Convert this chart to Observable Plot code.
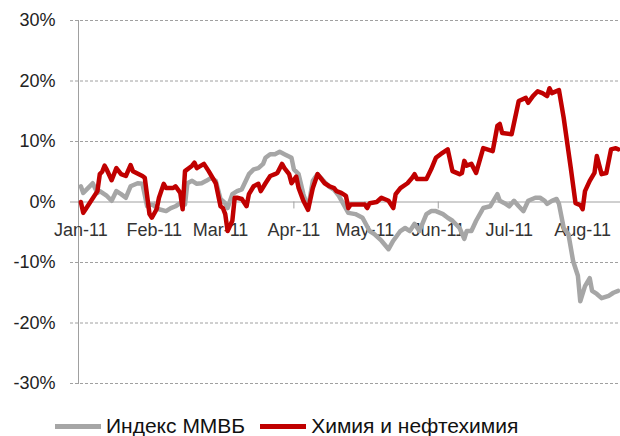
<!DOCTYPE html>
<html><head><meta charset="utf-8">
<script src="https://cdn.jsdelivr.net/npm/d3@7"></script>
<script src="https://cdn.jsdelivr.net/npm/@observablehq/plot@0.6"></script>
<style>
body{margin:0;background:#fff;font-family:"Liberation Sans",Arial,sans-serif;}
#legend{display:flex;align-items:center;height:52px;padding-left:55px;font-size:21px;color:#111;}
.item{display:flex;align-items:center;margin-right:15px;}
.sw{display:inline-block;width:46px;height:5px;margin-right:5px;}
</style></head><body>
<div id="chart"></div>
<div id="legend"></div>
<script>
const seriesNames = ["Индекс ММВБ", "Химия и нефтехимия"];
const seriesColors = ["#a6a6a6", "#c00000"];
const yTicks = [-30, -20, -10, 0, 10, 20, 30];
const monthTicks = ["2011-01-01","2011-02-01","2011-03-01","2011-04-01","2011-05-01","2011-06-01","2011-07-01","2011-08-01"];
const monthLabels = ["Jan-11","Feb-11","Mar-11","Apr-11","May-11","Jun-11","Jul-11","Aug-11"];
const xDomain = ["2010-12-31","2011-08-17"];

const micex = [["2011-01-01",2.6],["2011-01-02",1.5],["2011-01-04",2.3],["2011-01-06",3.1],["2011-01-08",1.5],["2011-01-09",1.8],["2011-01-12",1.0],["2011-01-14",0.2],["2011-01-16",1.8],["2011-01-18",1.3],["2011-01-20",0.7],["2011-01-22",2.6],["2011-01-25",3.1],["2011-01-27",3.0],["2011-01-29",-0.7],["2011-01-31",-0.4],["2011-02-03",-1.2],["2011-02-06",-1.5],["2011-02-08",-1.0],["2011-02-10",-0.7],["2011-02-12",-0.2],["2011-02-14",-0.4],["2011-02-15",3.1],["2011-02-17",3.5],["2011-02-19",3.0],["2011-02-21",3.1],["2011-02-23",3.5],["2011-02-25",4.0],["2011-02-27",3.5],["2011-03-01",0.5],["2011-03-03",-0.2],["2011-03-04",-1.0],["2011-03-06",1.3],["2011-03-08",1.8],["2011-03-10",2.1],["2011-03-13",4.6],["2011-03-15",5.4],["2011-03-17",5.6],["2011-03-19",6.3],["2011-03-20",7.3],["2011-03-22",7.9],["2011-03-24",7.9],["2011-03-26",8.3],["2011-03-28",7.9],["2011-03-31",7.3],["2011-04-01",5.4],["2011-04-03",4.6],["2011-04-05",1.3],["2011-04-07",-1.0],["2011-04-09",3.5],["2011-04-11",4.6],["2011-04-14",3.3],["2011-04-16",2.5],["2011-04-18",2.0],["2011-04-20",1.0],["2011-04-24",-1.8],["2011-04-27",-2.0],["2011-04-30",-2.6],["2011-05-03",-4.8],["2011-05-05",-5.3],["2011-05-08",-6.4],["2011-05-11",-7.8],["2011-05-13",-6.4],["2011-05-16",-4.8],["2011-05-18",-4.3],["2011-05-20",-4.8],["2011-05-22",-3.6],["2011-05-24",-4.8],["2011-05-27",-2.0],["2011-05-29",-1.5],["2011-05-31",-1.5],["2011-06-03",-2.0],["2011-06-05",-2.6],["2011-06-07",-3.1],["2011-06-10",-4.3],["2011-06-12",-6.1],["2011-06-13",-4.8],["2011-06-15",-4.8],["2011-06-17",-3.1],["2011-06-20",-1.0],["2011-06-23",-0.7],["2011-06-26",1.3],["2011-06-27",0.2],["2011-06-29",-0.2],["2011-07-01",-0.7],["2011-07-03",0.2],["2011-07-05",-0.7],["2011-07-07",-1.5],["2011-07-09",0.2],["2011-07-12",0.7],["2011-07-14",0.7],["2011-07-16",0.2],["2011-07-17",-0.3],["2011-07-19",0.2],["2011-07-21",0.5],["2011-07-22",-0.3],["2011-07-24",-4.3],["2011-07-26",-5.3],["2011-07-28",-9.8],["2011-07-30",-12.2],["2011-07-31",-16.4],["2011-08-02",-13.9],["2011-08-04",-12.6],["2011-08-05",-14.7],["2011-08-07",-15.2],["2011-08-09",-15.9],["2011-08-12",-15.5],["2011-08-14",-15.0],["2011-08-16",-14.7]];

const chemicals = [["2011-01-01",0.0],["2011-01-02",-1.8],["2011-01-03",-1.2],["2011-01-08",1.8],["2011-01-09",4.6],["2011-01-10",5.0],["2011-01-11",6.0],["2011-01-12",5.3],["2011-01-14",3.6],["2011-01-16",5.6],["2011-01-18",4.6],["2011-01-20",4.3],["2011-01-22",6.1],["2011-01-23",5.1],["2011-01-27",4.3],["2011-01-28",4.0],["2011-01-30",-2.0],["2011-01-31",-2.6],["2011-02-02",-1.2],["2011-02-03",0.7],["2011-02-05",3.0],["2011-02-06",2.3],["2011-02-09",2.3],["2011-02-10",2.6],["2011-02-12",1.5],["2011-02-13",-1.2],["2011-02-14",5.1],["2011-02-17",6.0],["2011-02-18",6.5],["2011-02-19",5.6],["2011-02-22",6.3],["2011-02-24",5.1],["2011-02-27",3.1],["2011-03-01",-0.7],["2011-03-02",-1.0],["2011-03-03",-2.0],["2011-03-04",-4.8],["2011-03-06",-3.1],["2011-03-07",0.7],["2011-03-08",0.7],["2011-03-10",0.5],["2011-03-12",-0.7],["2011-03-13",1.3],["2011-03-15",2.6],["2011-03-17",3.0],["2011-03-18",1.8],["2011-03-20",3.1],["2011-03-22",4.3],["2011-03-24",4.6],["2011-03-25",4.8],["2011-03-27",6.3],["2011-03-28",5.6],["2011-03-30",4.6],["2011-03-31",3.1],["2011-04-02",4.2],["2011-04-03",2.3],["2011-04-05",0.2],["2011-04-07",-1.3],["2011-04-09",2.3],["2011-04-11",4.6],["2011-04-14",3.1],["2011-04-16",2.6],["2011-04-18",2.3],["2011-04-19",1.8],["2011-04-21",1.5],["2011-04-23",1.0],["2011-04-24",-1.0],["2011-04-25",-0.4],["2011-05-01",-0.4],["2011-05-02",-1.0],["2011-05-03",-0.2],["2011-05-06",0.0],["2011-05-08",0.7],["2011-05-11",0.2],["2011-05-13",-1.0],["2011-05-14",1.3],["2011-05-16",2.3],["2011-05-19",3.1],["2011-05-21",4.0],["2011-05-22",4.6],["2011-05-23",3.8],["2011-05-27",3.8],["2011-05-29",5.4],["2011-05-31",7.3],["2011-06-02",7.9],["2011-06-05",8.7],["2011-06-07",5.1],["2011-06-10",4.6],["2011-06-11",4.8],["2011-06-12",6.8],["2011-06-13",6.0],["2011-06-15",6.3],["2011-06-17",4.8],["2011-06-20",8.9],["2011-06-24",8.4],["2011-06-26",12.6],["2011-06-27",12.9],["2011-06-28",11.4],["2011-07-02",11.2],["2011-07-05",16.7],["2011-07-08",17.2],["2011-07-09",16.4],["2011-07-11",17.5],["2011-07-13",18.3],["2011-07-15",18.0],["2011-07-17",17.5],["2011-07-18",18.8],["2011-07-19",18.0],["2011-07-22",18.5],["2011-07-24",13.9],["2011-07-27",5.6],["2011-07-29",-0.2],["2011-07-31",-0.5],["2011-08-01",-1.2],["2011-08-02",1.8],["2011-08-04",3.5],["2011-08-06",4.8],["2011-08-07",7.6],["2011-08-09",4.6],["2011-08-11",4.8],["2011-08-13",8.7],["2011-08-15",8.9],["2011-08-16",8.7]];

const parse = d3.utcParse("%Y-%m-%d");
const toRows = s => s.map(([d, v]) => ({date: parse(d), value: v}));
const months = monthTicks.map((d, i) => ({date: parse(d), label: monthLabels[i]}));
const gridColor = "#a0a0a0";

const chart = Plot.plot({
  width: 620, height: 400,
  marginLeft: 78, marginRight: 0, marginTop: 20, marginBottom: 17,
  style: {fontFamily: "Liberation Sans, Arial, sans-serif", background: "white", overflow: "visible"},
  x: {type: "utc", domain: xDomain.map(parse), axis: null},
  y: {domain: [-30, 30], axis: null},
  marks: [
    Plot.ruleY(yTicks.filter(t => t !== 0), {stroke: gridColor, strokeDasharray: "3,2", insetLeft: -8}),
    Plot.ruleY([0], {stroke: gridColor, insetLeft: -8}),
    Plot.frame({anchor: "left", stroke: gridColor}),
    Plot.text(yTicks, {x: parse(xDomain[0]), y: d => d, text: d => d + "%", textAnchor: "end", dx: -23, fontSize: 18, fill: "#222"}),
    Plot.ruleX(months.slice(1), {x: "date", y1: 0, y2: -1.15, stroke: gridColor}),
    Plot.text(months, {x: "date", y: 0, dy: 28, text: "label", fontSize: 18, fill: "#333"}),
    Plot.line(toRows(micex), {x: "date", y: "value", stroke: seriesColors[0], strokeWidth: 4.5, strokeLinejoin: "round"}),
    Plot.line(toRows(chemicals), {x: "date", y: "value", stroke: seriesColors[1], strokeWidth: 4.5, strokeLinejoin: "round"})
  ]
});
document.getElementById("chart").appendChild(chart);

const legend = document.getElementById("legend");
seriesNames.forEach((n, i) => {
  const item = document.createElement("div");
  item.className = "item";
  item.innerHTML = `<span class="sw" style="background:${seriesColors[i]}"></span><span>${n}</span>`;
  legend.appendChild(item);
});
</script>
</body></html>
